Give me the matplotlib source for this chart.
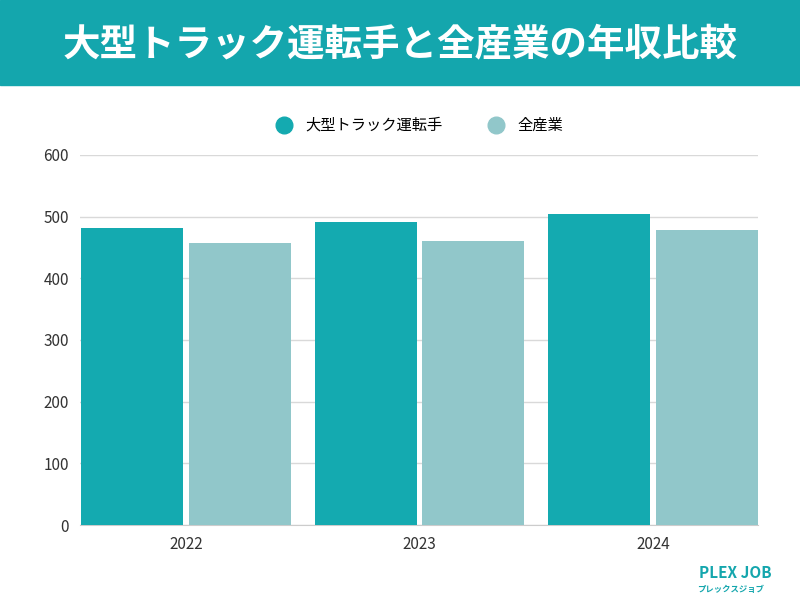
import matplotlib
matplotlib.use("Agg")
import matplotlib.pyplot as plt
from matplotlib.patches import Rectangle
from matplotlib.lines import Line2D

plt.rcParams['font.family'] = ['Noto Sans CJK JP', 'DejaVu Sans']

years = ["2022", "2023", "2024"]
truck = [482, 491, 504]
all_ind = [457, 460, 478]
series_names = ["大型トラック運転手", "全産業"]
c_truck = "#14aab0"
c_all = "#91c7ca"

fig = plt.figure(figsize=(8, 6), dpi=100)
fig.patches.append(Rectangle((0, 1 - 85/600), 1, 85/600, transform=fig.transFigure, color="#14a6ad", zorder=0))
fig.text(0.5, 1 - 44/600, "大型トラック運転手と全産業の年収比較", ha="center", va="center",
         color="white", fontsize=27, fontweight="bold")

ax = fig.add_axes([0.1, 0.125, 0.8475, 0.6167])
x = list(range(len(years)))
w = 0.437
off = 0.231
ax.bar([i - off for i in x], truck, w, color=c_truck, zorder=3)
ax.bar([i + off for i in x], all_ind, w, color=c_all, zorder=3)
ax.set_xlim(-0.454, 2.45)
ax.set_ylim(0, 600)
ax.set_yticks(range(0, 601, 100))
ax.set_xticks(x)
ax.set_xticklabels(years)
ax.grid(axis="y", color="#d9d9d9", linewidth=1, zorder=0)
for s in ["top", "right", "left"]:
    ax.spines[s].set_visible(False)
ax.spines["bottom"].set_color("#cccccc")
ax.tick_params(axis="both", length=0, labelsize=11, colors="#333333", pad=8)
handles = [Line2D([], [], marker="o", linestyle="", markersize=12, color=c) for c in (c_truck, c_all)]
ax.legend(handles, series_names, loc="center", bbox_to_anchor=(0.495, 1.08), ncol=2, frameon=False,
          fontsize=11, handletextpad=0.4, columnspacing=2.5)
fig.text(0.965, 0.045, "PLEX JOB", ha="right", va="center", color="#14a6ad", fontsize=11, fontweight="bold")
fig.text(0.955, 0.018, "プレックスジョブ", ha="right", va="center", color="#14a6ad", fontsize=6, fontweight="bold")
fig.savefig("out.png", dpi=100)
